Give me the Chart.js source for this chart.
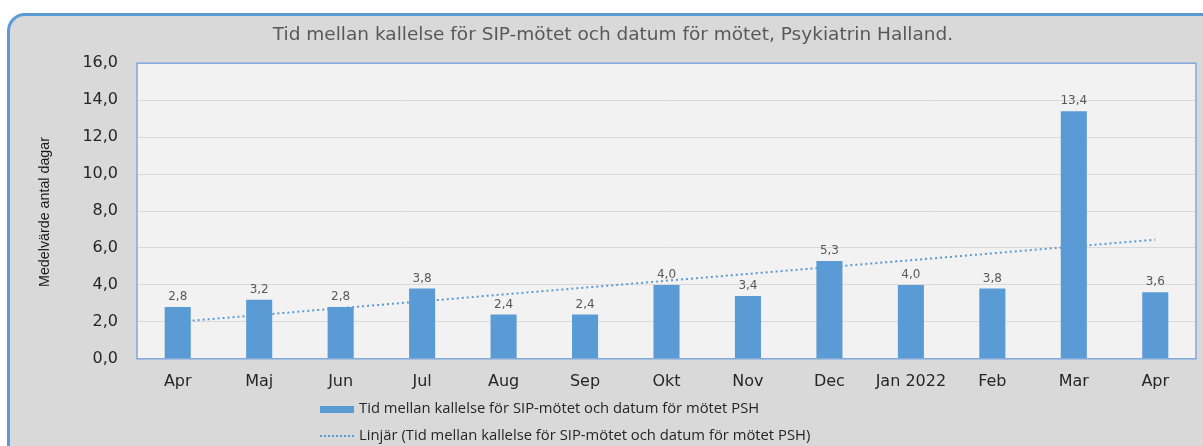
<!DOCTYPE html>
<html>
<head>
<meta charset="utf-8">
<script src="https://cdn.jsdelivr.net/npm/chart.js@4"></script>
<style>
body{margin:0;background:#fff;width:1203px;height:446px;overflow:hidden;position:relative;font-family:"Open Sans",sans-serif;}
#panel{position:absolute;left:7px;top:13px;width:1220px;height:460px;background:#d9d9d9;border:3px solid #5b9bd5;border-radius:18px;box-sizing:border-box;}
#c{position:absolute;left:0;top:0;}
.leg{position:absolute;left:320px;font-size:14.8px;color:#262626;white-space:nowrap;}
.leg .sw{display:inline-block;vertical-align:middle;margin-right:5px;}
</style>
</head>
<body>
<div id="panel"></div>
<canvas id="c" width="1203" height="446"></canvas>
<div class="leg" style="top:397px"><span class="sw" style="width:34px;height:7px;background:#5b9bd5"></span>Tid mellan kallelse för SIP-mötet och datum för mötet PSH</div>
<div class="leg" style="top:424px"><span class="sw" style="width:34px;height:0;border-top:2px dotted #5b9bd5"></span>Linjär (Tid mellan kallelse för SIP-mötet och datum för mötet PSH)</div>
<script>
// DATA
const months=["Apr","Maj","Jun","Jul","Aug","Sep","Okt","Nov","Dec","Jan 2022","Feb","Mar","Apr"];
const values=[2.8,3.2,2.8,3.8,2.4,2.4,4.0,3.4,5.3,4.0,3.8,13.4,3.6];
// trend line end points
const trend=[2.0,null,null,null,null,null,null,null,null,null,null,null,6.45];
const yMin=0, yMax=16, yStep=2;
const yTitle="Medelvärde antal dagar";

const fmt=v=>v.toFixed(1).replace(".",",");

// plot area background + border, y title (condensed)
const plotBox={
id:"plotBox",
beforeDraw(chart){
const a=chart.chartArea, ctx=chart.ctx;
ctx.save();
ctx.fillStyle="#f2f2f2";
ctx.fillRect(a.left,a.top,a.right-a.left,a.bottom-a.top);
ctx.restore();
},
afterDraw(chart){
const a=chart.chartArea, ctx=chart.ctx;
ctx.save();
ctx.strokeStyle="#7fa9dc";
ctx.lineWidth=1.5;
ctx.strokeRect(a.left,a.top,a.right-a.left,a.bottom-a.top);
// y axis title, squeezed like a narrow font
ctx.font="15px 'Liberation Sans'";
ctx.fillStyle="#1a1a1a";
ctx.textAlign="center";
ctx.textBaseline="middle";
const w=ctx.measureText(yTitle).width;
ctx.translate(45,(a.top+a.bottom)/2+1);
ctx.rotate(-Math.PI/2);
ctx.scale(150/w,1);
ctx.fillText(yTitle,0,0);
ctx.restore();
}
};

// value labels over bars
const barLabels={
id:"barLabels",
afterDatasetsDraw(chart){
const ctx=chart.ctx;
const meta=chart.getDatasetMeta(1);
ctx.save();
ctx.font="12px 'DejaVu Sans'";
ctx.fillStyle="#595959";
ctx.textAlign="center";
ctx.textBaseline="bottom";
meta.data.forEach((bar,i)=>{
ctx.fillText(fmt(values[i]),bar.x,bar.y-4);
});
ctx.restore();
}
};

new Chart(document.getElementById("c").getContext("2d"),{
type:"bar",
data:{
labels:months,
datasets:[{
type:"line",
data:trend,
spanGaps:true,
borderColor:"#5b9bd5",
borderWidth:2,
borderDash:[2,3],
pointRadius:0,
fill:false,
order:2
},{
data:values,
backgroundColor:"#5b9bd5",
categoryPercentage:1,
barPercentage:0.32,
order:1
}]
},
options:{
responsive:false,
animation:false,
layout:{padding:{left:30,right:7,top:0,bottom:42}},
plugins:{
legend:{display:false},
tooltip:{enabled:false},
title:{
display:true,
text:"Tid mellan kallelse för SIP-mötet och datum för mötet, Psykiatrin Halland.",
color:"#595959",
font:{family:"DejaVu Sans",size:18.5,weight:"normal"},
padding:{top:24,bottom:17}
}
},
scales:{
x:{
grid:{display:false,drawTicks:false},
border:{display:false},
ticks:{color:"#262626",font:{family:"DejaVu Sans",size:16},padding:13,maxRotation:0}
},
y:{
min:yMin,max:yMax,
grid:{color:"#d9d9d9",drawTicks:false},
border:{display:false},
ticks:{stepSize:yStep,color:"#262626",font:{family:"DejaVu Sans",size:16},padding:19,callback:v=>fmt(v)},
afterFit(s){s.width=107;}
}
}
},
plugins:[plotBox,barLabels]
});
</script>
</body>
</html>
